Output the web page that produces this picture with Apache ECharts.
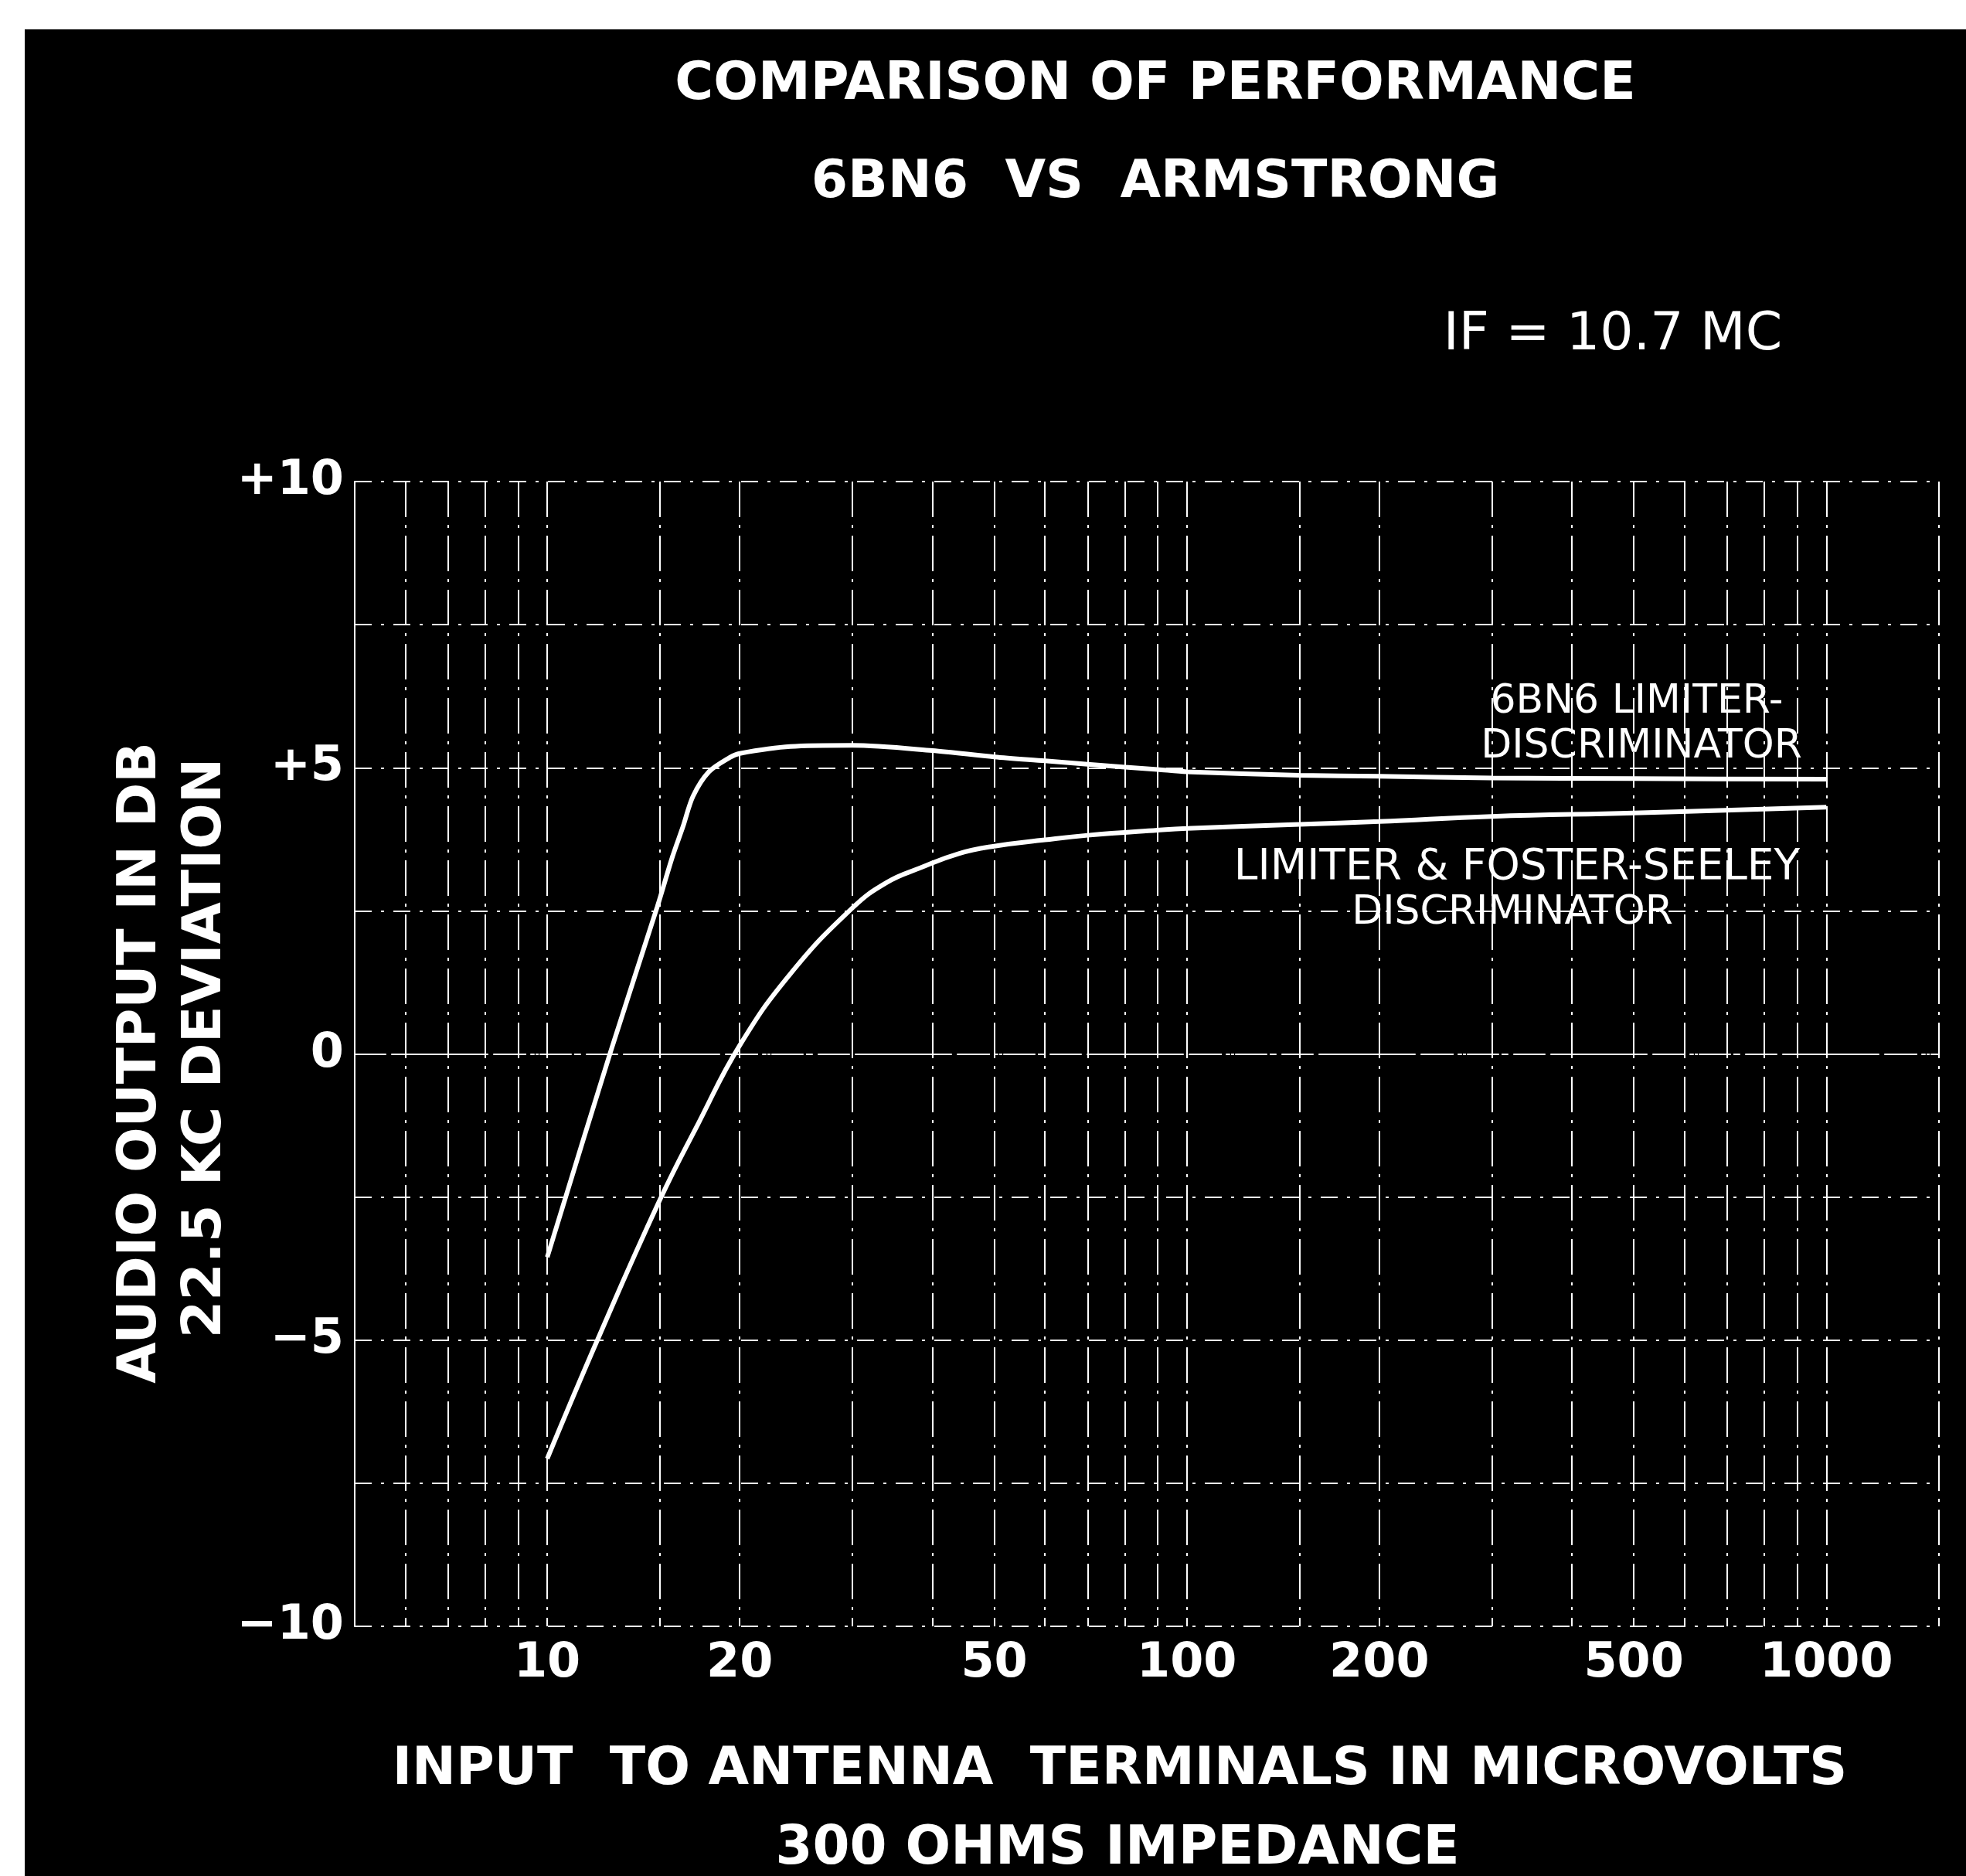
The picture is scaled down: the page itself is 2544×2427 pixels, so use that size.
<!DOCTYPE html>
<html>
<head>
<meta charset="utf-8">
<title>Comparison of performance - 6BN6 vs Armstrong</title>
<script src="https://cdn.jsdelivr.net/npm/echarts@6/dist/echarts.min.js"></script>
<style>
  html, body { margin: 0; padding: 0; background: #fff; }
  /* black sheet with a thin white margin at top and left, like the scan */
  #chart {
    width: 2544px;
    height: 2427px;
    background: linear-gradient(#000, #000) no-repeat 32px 38px / 2512px 2389px, #fff;
  }
</style>
</head>
<body>
<div id="chart"></div>
<script>
// input to antenna terminals (microvolts) vs audio output (db)
const limiterDiscX = [10, 12.57, 14.86, 15.7, 16.3, 16.9, 17.9, 19.3, 20, 24, 30, 40, 50, 60, 70, 90, 100, 150, 200, 300, 500, 1000]
const limiterDiscY = [-3.55, 0.05, 2.57, 3.45, 3.97, 4.5, 4.93, 5.18, 5.25, 5.37, 5.39, 5.3, 5.19, 5.12, 5.06, 4.97, 4.93, 4.87, 4.85, 4.82, 4.81, 4.8]

const fosterSeeleyX = [10, 12, 15, 17.2, 20, 24, 30, 34, 38.3, 44, 50, 60, 70, 90, 100, 150, 200, 300, 500, 1000]
const fosterSeeleyY = [-7.07, -4.98, -2.55, -1.23, 0.15, 1.4, 2.55, 3.0, 3.25, 3.5, 3.63, 3.74, 3.82, 3.91, 3.94, 4.01, 4.06, 4.15, 4.21, 4.31]

// log graph paper rulings and the labelled ones
const xGridValues = [5, 6, 7, 8, 9, 10, 15, 20, 30, 40, 50, 60, 70, 80, 90, 100, 150, 200, 300, 400, 500, 600, 700, 800, 900, 1000, 1500]
const xLabelValues = [10, 20, 50, 100, 200, 500, 1000]
const yMin = -10
const yMax = 10
const yStep = 2.5

const toPairs = (xs, ys) => xs.map((x, i) => [x, ys[i]])

const chart = echarts.init(document.getElementById('chart'))

const boldFont = size => 'bold ' + size + 'px "DejaVu Sans"'
const plainFont = size => size + 'px "DejaVu Sans"'

const label = (text, x, y, font, rotation) => ({
  type: 'text',
  x: x,
  y: y,
  rotation: rotation || 0,
  silent: true,
  style: {
    text: text,
    fill: '#fff',
    font: font,
    textAlign: 'center',
    textVerticalAlign: 'middle'
  }
})

const option = {
  backgroundColor: 'transparent',
  animation: false,
  grid: {
    left: 459,
    top: 623,
    right: 35,
    bottom: 323
  },
  xAxis: {
    type: 'log',
    logBase: 10,
    min: 5,
    max: 1500,
    axisLine: {
      show: true,
      lineStyle: { color: '#fff', width: 2, type: [40, 8, 4, 8] }
    },
    axisTick: { show: false, customValues: xGridValues },
    axisLabel: {
      customValues: xLabelValues,
      color: '#fff',
      fontFamily: 'DejaVu Sans',
      fontWeight: 'bold',
      fontSize: 62,
      margin: 18,
      formatter: v => String(v)
    },
    splitLine: {
      show: true,
      lineStyle: { color: '#fff', width: 2, type: [46, 10, 4, 10] }
    }
  },
  yAxis: {
    type: 'value',
    min: yMin,
    max: yMax,
    interval: yStep,
    axisLine: {
      show: true,
      lineStyle: { color: '#fff', width: 2 }
    },
    axisTick: { show: false },
    axisLabel: {
      color: '#fff',
      fontFamily: 'DejaVu Sans',
      fontWeight: 'bold',
      fontSize: 62,
      margin: 14,
      formatter: v => {
        if (v % 5 !== 0) return ''
        if (v > 0) return '+' + v
        if (v < 0) return '\u2212' + Math.abs(v)
        return '0'
      }
    },
    splitLine: {
      show: true,
      lineStyle: { color: '#fff', width: 2, type: [22, 12, 4, 12] }
    }
  },
  series: [
    {
      name: '6BN6 LIMITER-DISCRIMINATOR',
      type: 'line',
      data: toPairs(limiterDiscX, limiterDiscY),
      smooth: 0.3,
      showSymbol: false,
      lineStyle: { color: '#fff', width: 6 },
      z: 5
    },
    {
      name: 'LIMITER & FOSTER-SEELEY DISCRIMINATOR',
      type: 'line',
      data: toPairs(fosterSeeleyX, fosterSeeleyY),
      smooth: 0.45,
      showSymbol: false,
      lineStyle: { color: '#fff', width: 6 },
      z: 5
    }
  ],
  graphic: [
    label('COMPARISON OF PERFORMANCE', 1495, 110, boldFont(68)),
    label('6BN6  VS  ARMSTRONG', 1495, 237, boldFont(68)),
    label('IF = 10.7 MC', 2087, 434, plainFont(68)),
    label('AUDIO OUTPUT IN DB', 183, 1375, boldFont(69), Math.PI / 2),
    label('22.5 KC DEVIATION', 267, 1356, boldFont(70), Math.PI / 2),
    label('INPUT  TO ANTENNA  TERMINALS IN MICROVOLTS', 1449, 2290, boldFont(68)),
    label('300 OHMS IMPEDANCE', 1446, 2393, boldFont(69)),
    label('6BN6 LIMITER-', 2118, 908, plainFont(52)),
    label('DISCRIMINATOR', 2124, 966, plainFont(52)),
    label('LIMITER & FOSTER-SEELEY', 1963, 1123, plainFont(55)),
    label('DISCRIMINATOR', 1957, 1181, plainFont(52))
  ]
}

chart.setOption(option)
</script>
</body>
</html>
